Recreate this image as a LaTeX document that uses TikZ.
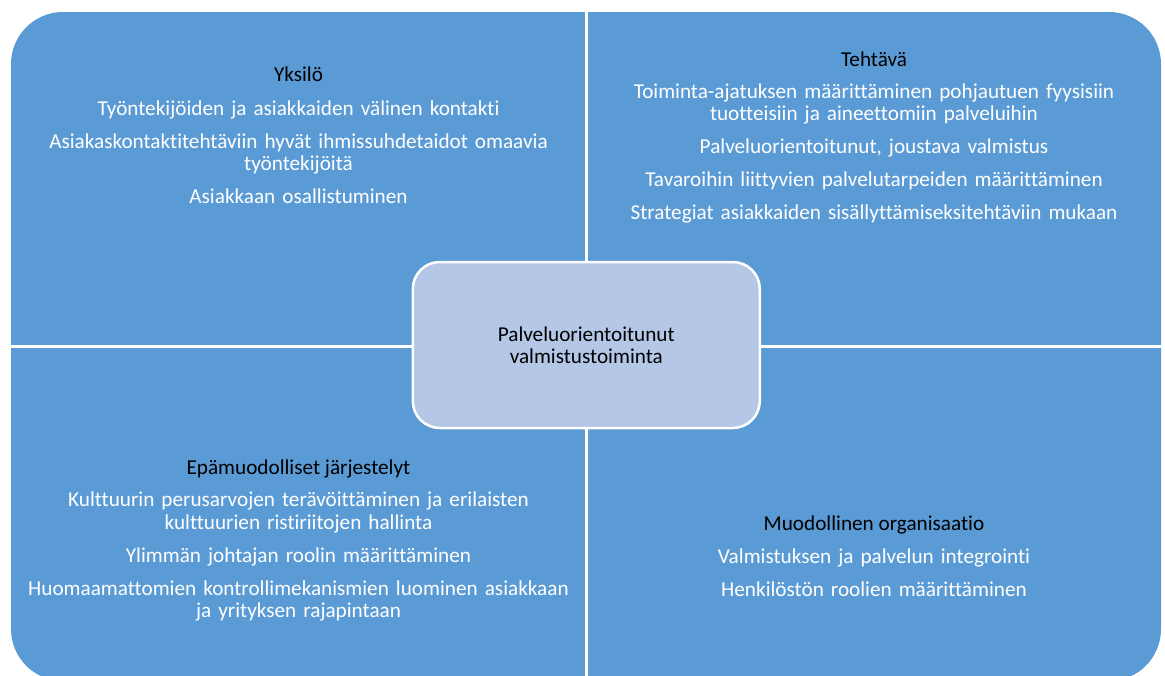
\documentclass[tikz,border=0pt]{standalone}
\usepackage{fontspec}
\setmainfont{Carlito}[Ligatures=NoCommon]
\usetikzlibrary{positioning}
\definecolor{quadblue}{RGB}{91,155,213}
\definecolor{coreblue}{RGB}{180,199,231}
\tikzset{
  heading/.style={anchor=base, text=black, inner sep=0pt},
  itemtext/.style={anchor=base, text=white, inner sep=0pt, text width=560pt, align=center},
  corebox/.style={draw=white, line width=2.5pt, fill=coreblue, rounded corners=27pt,
    minimum width=347pt, minimum height=166pt, align=center, text=black},
}
\begin{document}
\begin{tikzpicture}[x=1pt, y=-1pt, font=\fontsize{21.2}{22.5}\selectfont]
  \useasboundingbox (0,0) rectangle (1165,675);
  \clip (0,0) rectangle (1165,675);
  % four quadrants: one rounded block cut by white gaps
  \fill[quadblue, rounded corners=52pt] (11,12) rectangle (1161,681);
  \fill[white] (585,0) rectangle (587.6,690);
  \fill[white] (0,345) rectangle (1165,347.7);

  % top left
  \node[heading] (yksilo) at (298.5,81.7) {Yksilö};
  \node[itemtext] (yksiloitems) at (298.5,115) {Työntekijöiden ja asiakkaiden välinen kontakti\\[10.5pt]
    Asiakaskontaktitehtäviin hyvät ihmissuhdetaidot omaavia\\työntekijöitä\\[10.5pt]
    Asiakkaan osallistuminen};

  % top right
  \node[heading] (tehtava) at (874,66) {Tehtävä};
  \node[itemtext] (tehtavaitems) at (874,98.3) {Toiminta-ajatuksen määrittäminen pohjautuen fyysisiin\\tuotteisiin ja aineettomiin palveluihin\\[10.5pt]
    Palveluorientoitunut, joustava valmistus\\[10.5pt]
    Tavaroihin liittyvien palvelutarpeiden määrittäminen\\[10.5pt]
    Strategiat asiakkaiden sisällyttämiseksitehtäviin mukaan};

  % bottom left
  \node[heading] (epamuod) at (298.5,474) {Epämuodolliset järjestelyt};
  \node[itemtext] (epamuoditems) at (298.5,506.7) {Kulttuurin perusarvojen terävöittäminen ja erilaisten\\kulttuurien ristiriitojen hallinta\\[10.5pt]
    Ylimmän johtajan roolin määrittäminen\\[10.5pt]
    Huomaamattomien kontrollimekanismien luominen asiakkaan\\ja yrityksen rajapintaan};

  % bottom right
  \node[heading] (muod) at (874,530) {Muodollinen organisaatio};
  \node[itemtext] (muoditems) at (874,563.3) {Valmistuksen ja palvelun integrointi\\[10.5pt]
    Henkilöstön roolien määrittäminen};

  % centre
  \node[corebox] (core) at (586.3,345) {Palveluorientoitunut\\valmistustoiminta};
\end{tikzpicture}
\end{document}
